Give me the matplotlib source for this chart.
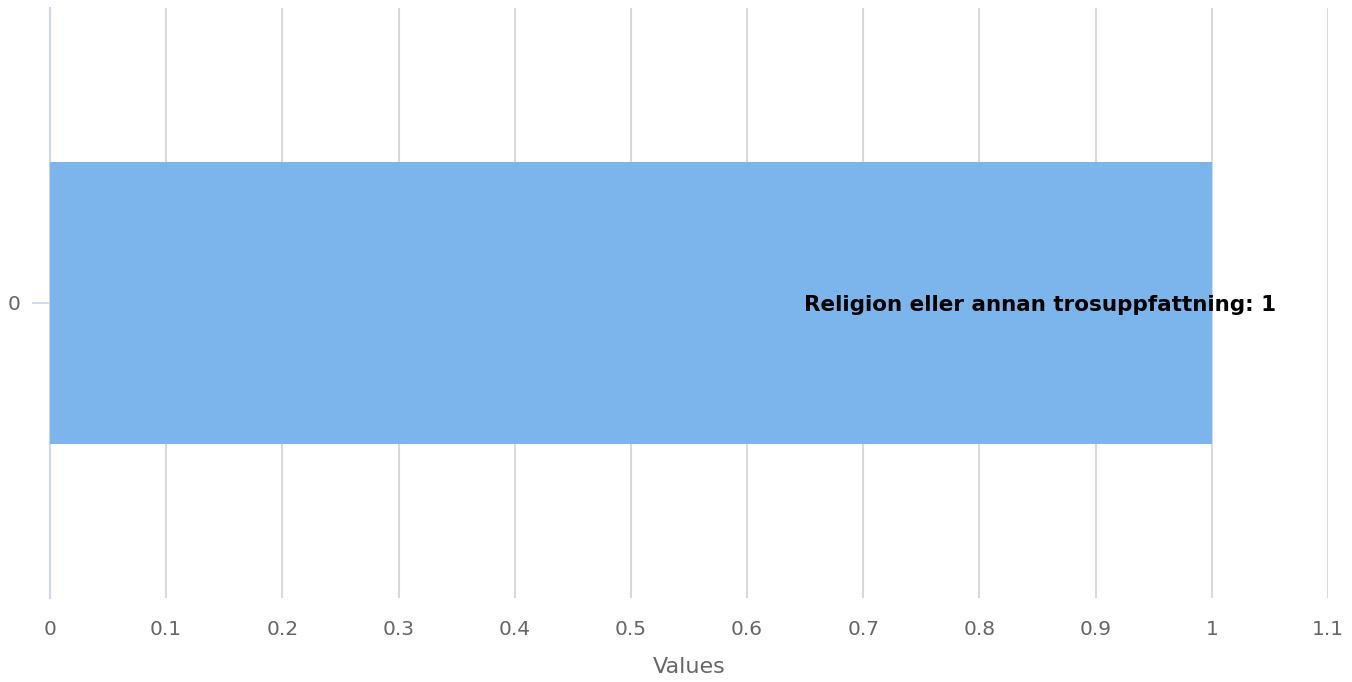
import matplotlib
matplotlib.use("Agg")
import matplotlib.pyplot as plt

categories = ["0"]
values = [1]
series_name = "Religion eller annan trosuppfattning"
xticks = [0, 0.1, 0.2, 0.3, 0.4, 0.5, 0.6, 0.7, 0.8, 0.9, 1, 1.1]
xtick_labels = ["0", "0.1", "0.2", "0.3", "0.4", "0.5", "0.6", "0.7", "0.8", "0.9", "1", "1.1"]

plt.rcParams['font.family'] = ['DejaVu Sans']

fig = plt.figure(figsize=(13.52, 6.82), dpi=100)
ax = fig.add_axes([50/1352, 1 - 598/682, (1328-50)/1352, (598-8)/682])

ypos = list(range(len(categories)))
ax.barh(ypos, values, height=0.478, color="#7cb5ec", zorder=3)
ax.set_xlim(0, 1.1)
ax.set_ylim(-0.5, 0.5)
ax.set_xticks(xticks)
ax.set_xticklabels(xtick_labels)
ax.set_yticks(ypos)
ax.set_yticklabels(categories)
ax.grid(axis='x', color="#d9d9d9", linewidth=1.5, zorder=0)
ax.grid(axis='y', visible=False)
for s in ["top", "right", "bottom"]:
    ax.spines[s].set_visible(False)
ax.spines["left"].set_color("#ccd6eb")
ax.spines["left"].set_linewidth(1.5)
ax.tick_params(axis='x', length=0, pad=16, labelsize=14.5, labelcolor="#666666")
ax.tick_params(axis='y', length=13, width=1.2, color="#ccd6eb", pad=8, labelsize=14.5, labelcolor="#666666")
ax.set_xlabel("Values", fontsize=16, color="#666666", labelpad=13)

for y, v in zip(ypos, values):
    ax.annotate(f"{series_name}: {v}", xy=(v, y), xytext=(46, -1.5), textcoords="offset points",
                ha="right", va="center", fontsize=15.5, fontweight="bold", color="black", zorder=4)

fig.savefig("out.png", dpi=100)
